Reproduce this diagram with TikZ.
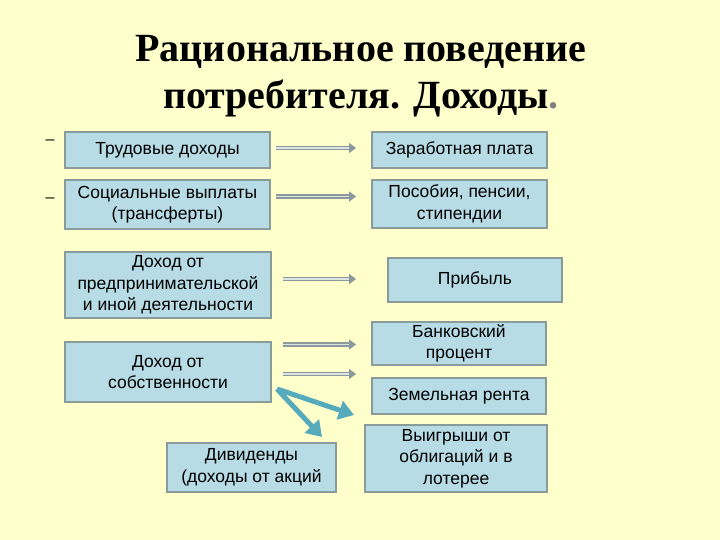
\documentclass[tikz,border=0pt]{standalone}
\usepackage{fontspec}
\setmainfont{Liberation Sans}
\newfontfamily\titlefont{Liberation Serif}
\usetikzlibrary{arrows.meta}
\definecolor{bg}{HTML}{FFFFCC}
\definecolor{boxfill}{HTML}{B7DCE6}
\definecolor{boxline}{HTML}{8A9C9A}
\definecolor{arrgray}{HTML}{8A9A9C}
\definecolor{arrin}{HTML}{DDE3E2}
\definecolor{tealarr}{HTML}{55AABB}
\tikzset{
  ibox/.style={draw=boxline, line width=1.8pt, fill=boxfill, align=center,
    font=\fontsize{17.5}{21.5}\selectfont, inner sep=1pt},
  dblarrow/.style={draw=arrgray, line width=1.4pt, double=arrin, double distance=1.4pt,
    -{Triangle[length=7pt,width=10pt]}},
  tarrow/.style={draw=tealarr, line width=5pt, -{Triangle[length=15pt,width=19pt]}},
  dashmark/.style={font=\fontsize{16}{18}\selectfont, inner sep=0pt}
}
\begin{document}
\begin{tikzpicture}[x=1pt,y=-1pt]
\fill[bg] (0,0) rectangle (720,540);
\useasboundingbox (0,0) rectangle (720,540);
% title
\node[font=\titlefont\bfseries\fontsize{40}{47}\selectfont, align=center] (title) at (361,76)
  {Рациональное поведение\\потребителя. Доходы{\color{gray}.}};
% dashes
\node[dashmark] (d1) at (50,142) {–};
\node[dashmark] (d2) at (50,200) {–};
% left boxes
\node[ibox, minimum width=205pt, minimum height=36pt] (b1) at (167.5,150) {Трудовые доходы};
\node[ibox, minimum width=205pt, minimum height=49pt] (b2) at (167.5,204.5) {Социальные выплаты\\(трансферты)};
\node[ibox, minimum width=206pt, minimum height=66pt] (b3) at (168,285) {Доход от\\предпринимательской\\и иной деятельности};
\node[ibox, minimum width=206pt, minimum height=60pt] (b4) at (168,372) {Доход от\\собственности};
\node[ibox, minimum width=169pt, minimum height=49pt] (div) at (251.5,467.5) {Дивиденды\\(доходы от акций};
% right boxes
\node[ibox, minimum width=175pt, minimum height=36pt] (z1) at (459.5,150) {Заработная плата};
\node[ibox, minimum width=175pt, minimum height=48pt] (z2) at (459.5,204) {Пособия, пенсии,\\стипендии};
\node[ibox, minimum width=174pt, minimum height=44pt] (pr) at (475,280) {Прибыль};
\node[ibox, minimum width=174pt, minimum height=43pt] (bank) at (459,343.5) {Банковский\\процент};
\node[ibox, minimum width=174pt, minimum height=36pt] (zem) at (459,396) {Земельная рента};
\node[ibox, minimum width=182pt, minimum height=67pt] (win) at (456,458.5) {Выигрыши от\\облигаций и в\\лотерее};
% double arrows
\draw[dblarrow, shorten <=5pt, shorten >=15pt] ([yshift=2pt]b1.east) -- ([yshift=2pt]z1.west);
\draw[dblarrow, shorten <=5pt, shorten >=15pt] ([yshift=8pt]b2.east) -- ([yshift=8pt]b2.east -| z2.west);
\draw[dblarrow, shorten <=11pt, shorten >=31pt] ([yshift=6pt]b3.east) -- ([yshift=6pt]b3.east -| pr.west);
\draw[dblarrow, shorten <=11pt, shorten >=15pt] ([yshift=-1pt]b4.east |- bank.west) -- ([yshift=-1pt]bank.west);
\draw[dblarrow, shorten <=11pt, shorten >=15pt] ([yshift=-2pt]b4.east) -- ([yshift=-2pt]b4.east -| zem.west);
% teal arrows
\coordinate (ts) at (277,389);
\coordinate (te1) at (354,415);
\coordinate (te2) at (322,437);
\draw[tarrow] (ts) -- (te1);
\draw[tarrow] (ts) -- (te2);
\end{tikzpicture}
\end{document}
